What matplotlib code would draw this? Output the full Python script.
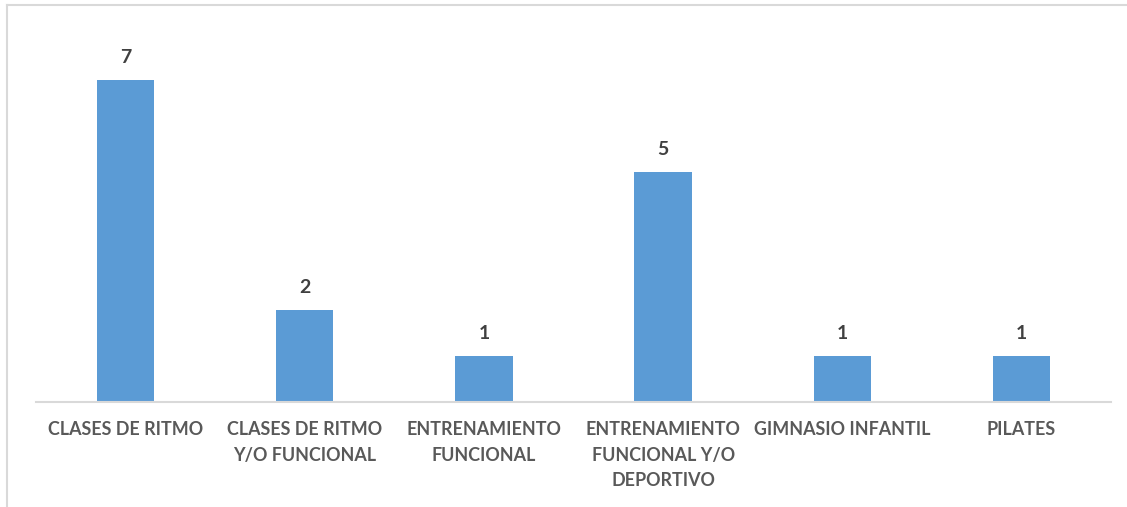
import matplotlib.pyplot as plt
from matplotlib.lines import Line2D

categorias = ["CLASES DE RITMO", "CLASES DE RITMO\nY/O FUNCIONAL", "ENTRENAMIENTO\nFUNCIONAL",
              "ENTRENAMIENTO\nFUNCIONAL Y/O\nDEPORTIVO", "GIMNASIO INFANTIL", "PILATES"]
valores = [7, 2, 1, 5, 1, 1]

W, H = 1127, 507
fig = plt.figure(figsize=(W / 100, H / 100), dpi=100)
ax = fig.add_axes([36 / W, (H - 402) / H, (1111 - 36) / W, (402 - 34) / H])

x = range(len(valores))
ax.bar(x, valores, width=0.32, color="#5B9BD5", zorder=2)
for i, v in zip(x, valores):
    ax.text(i, v + 0.3, str(v), ha="center", va="bottom", fontsize=14,
            fontweight="bold", color="#404040", family="Lato")

ax.set_xlim(-0.5, len(valores) - 0.5)
ax.set_ylim(0, 8)
ax.set_yticks([])
ax.set_xticks(list(x))
ax.set_xticklabels(categorias, fontsize=12.9, fontweight="bold", color="#595959",
                   family="Lato", linespacing=1.6)
ax.tick_params(axis="x", length=0, pad=14)
for s in ["top", "right", "left"]:
    ax.spines[s].set_visible(False)
ax.spines["bottom"].set_color("#D9D9D9")
ax.spines["bottom"].set_linewidth(1.5)

# marco del grafico
fig.add_artist(Line2D([7 / W, 7 / W], [0, 1 - 5 / H], transform=fig.transFigure,
                      color="#D9D9D9", lw=1.5))
fig.add_artist(Line2D([7 / W, 1], [1 - 5 / H, 1 - 5 / H], transform=fig.transFigure,
                      color="#D9D9D9", lw=1.5))

fig.savefig("out.png", dpi=100)
